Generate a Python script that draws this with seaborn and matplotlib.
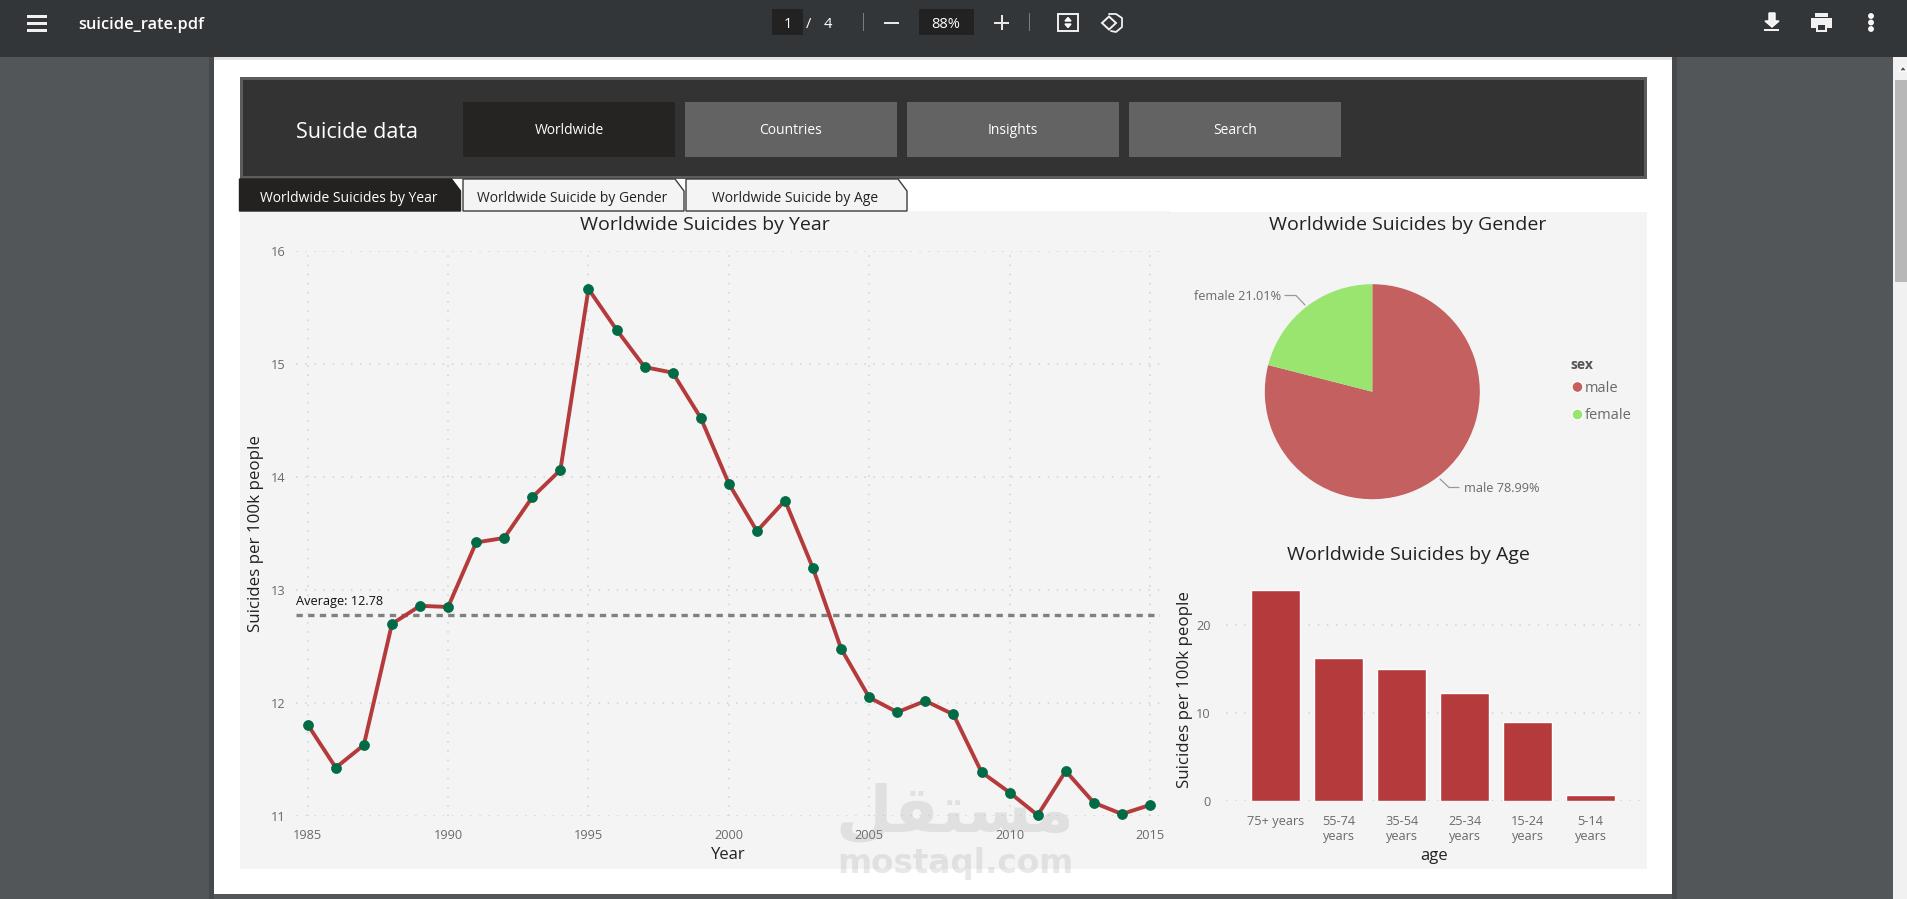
import matplotlib
matplotlib.use("Agg")
import matplotlib.pyplot as plt
from matplotlib.patches import Rectangle, Polygon, Circle
import pandas as pd
import seaborn as sns

# Worldwide suicide rate per 100k people
years = list(range(1985, 2016))
rates = [11.81, 11.43, 11.63, 12.70, 12.86, 12.85, 13.42, 13.46, 13.82, 14.06,
         15.66, 15.30, 14.97, 14.92, 14.52, 13.94, 13.52, 13.79, 13.19, 12.48,
         12.05, 11.92, 12.02, 11.90, 11.39, 11.21, 11.01, 11.40, 11.12, 11.02, 11.10]
average_rate = 12.78

sexes = ["male", "female"]
sex_shares = [78.99, 21.01]

age_groups = ["75+ years", "55-74\nyears", "35-54\nyears", "25-34\nyears", "15-24\nyears", "5-14\nyears"]
age_rates = [23.98, 16.24, 14.99, 12.26, 8.96, 0.65]

nav_labels = ["Worldwide", "Countries", "Insights", "Search"]
tab_labels = ["Worldwide Suicides by Year", "Worldwide Suicide by Gender", "Worldwide Suicide by Age"]
year_ticks = [1985, 1990, 1995, 2000, 2005, 2010, 2015]
rate_ticks = [11, 12, 13, 14, 15, 16]
age_ticks = [0, 10, 20]

W, H = 1907, 899
FONT = "Open Sans"
RED = "#B53A3B"
GREEN = "#006B45"
PIE_COLORS = ["#C46060", "#9AE570"]
PANEL = "#F4F4F4"
TICK = "#6A6A6A"
INK = "#222222"

sns.set_theme(style="white")
plt.rcParams["font.family"] = [FONT, "DejaVu Sans"]
plt.rcParams["axes.unicode_minus"] = False

fig = plt.figure(figsize=(W / 100, H / 100), dpi=100, facecolor="#525659")


def pixel_axes(x0, y0, x1, y1, **kw):
    """Axes placed by its pixel box, with y counted from the top of the figure."""
    return fig.add_axes([x0 / W, 1 - y1 / H, (x1 - x0) / W, (y1 - y0) / H], **kw)


# Viewer chrome and dashboard frame share one backdrop in pixel coordinates
bg = pixel_axes(0, 0, W, H)
bg.set_xlim(0, W)
bg.set_ylim(H, 0)
bg.axis("off")


def box(x0, y0, x1, y1, color, **kw):
    bg.add_patch(Rectangle((x0, y0), x1 - x0, y1 - y0, facecolor=color, edgecolor=kw.pop("edgecolor", "none"), **kw))


def label(x, y, s, size, color="white", ha="center", **kw):
    bg.text(x, y, s, fontsize=size, color=color, ha=ha, va="center", **kw)


# Page, shadow and scrollbar
box(0, 0, W, H, "#525659")
box(1672, 57, 1677, 899, "#45494C")
box(209, 57, 214, 899, "#45494C")
box(214, 57, 1672, 894, "white")
box(214, 57, 1672, 60, "#E4E4E4")
box(1893, 57, 1907, 899, "#F1F1F1")
box(1895, 80, 1907, 282, "#B7B7B7")
bg.add_patch(Polygon([(1899, 71), (1907, 71), (1903, 66)], facecolor="#505050"))

# Toolbar
box(0, 0, W, 57, "#323639")
for y in (15, 22, 29):
    box(27, y, 47, y + 2.6, "#F1F1F1")
label(78.5, 25, "suicide_rate.pdf", 11.8, ha="left", fontweight="semibold")
box(772, 9, 803, 35, "#222222")
label(788, 24, "1", 10.5)
label(809, 25, "/", 10.5)
label(828, 24, "4", 10.5)
box(862.5, 13, 863.5, 31, "#7A7D80")
box(884, 21.5, 899, 23.5, "#E8E8E8")
box(919, 9, 974, 35, "#222222")
label(946, 24, "88%", 10.5)
box(994, 21.5, 1009, 23.5, "#E8E8E8")
box(1000.5, 15, 1002.5, 30, "#E8E8E8")
box(1029, 13, 1030, 31, "#7A7D80")
box(1057.5, 14, 1078, 31, "none", edgecolor="#F1F1F1", linewidth=1.4)
bg.add_patch(Polygon([(1065, 21), (1071, 21), (1068, 17.5)], facecolor="#F1F1F1"))
bg.add_patch(Polygon([(1065, 24), (1071, 24), (1068, 27.5)], facecolor="#F1F1F1"))
bg.add_patch(Polygon([(1102, 23), (1109, 16.5), (1116, 23), (1109, 29.5)], facecolor="none", edgecolor="#F1F1F1", linewidth=1.4))
bg.plot([1109, 1116, 1122, 1122, 1116, 1111], [14, 14, 18, 27, 32, 31], color="#F1F1F1", lw=1.3)
bg.add_patch(Polygon([(1765, 21), (1769, 21), (1769, 13), (1775, 13), (1775, 21), (1779, 21), (1772, 27)], facecolor="#F1F1F1"))
box(1764, 29, 1779, 30.5, "#F1F1F1")
box(1815, 13, 1828, 17, "#F1F1F1")
box(1811, 18, 1832, 28, "#F1F1F1")
box(1816, 24, 1827, 32, "#F1F1F1")
box(1818, 25, 1825, 30, "#323639")
for y in (16, 22.5, 29):
    bg.add_patch(Circle((1871, y), 2.2, facecolor="#F1F1F1"))

# Dashboard header
box(239.5, 77, 1647, 179, "#5C5C5A")
box(242.5, 80, 1643.5, 175.5, "#333333")
label(357.5, 132, "Suicide data", 15.5)
nav_boxes = [(463, 675), (685, 897), (907, 1119), (1129, 1341)]
for (x0, x1), name, fill in zip(nav_boxes, nav_labels, ["#252422", "#636363", "#636363", "#636363"]):
    box(x0, 102, x1, 157, fill)
    label((x0 + x1) / 2, 131, name, 10)

# Tabs and chart panel
box(239.5, 211, 1647, 869, PANEL)
box(1170, 211, 1647, 212, "white")
tab_boxes = [(239.5, 460.5), (463, 684), (686, 907)]
for i, ((x0, x1), name) in enumerate(zip(tab_boxes, tab_labels)):
    pts = [(x0, 211), (x0, 179), (x1 - 9, 179), (x1, 191), (x1, 211)]
    first = i == 0
    bg.add_patch(Polygon(pts, facecolor="#232220" if first else PANEL,
                         edgecolor="#232220" if first else "#3C3C3C", linewidth=1))
    label((x0 + x1) / 2 - 1.5, 199, name, 10, color="white" if first else INK)


def style_axes(ax):
    ax.set_facecolor("none")
    sns.despine(ax=ax, left=True, bottom=True)
    ax.tick_params(length=0, labelsize=9.2, labelcolor=TICK, pad=0)
    ax.grid(True, color="#D2D2D2", linestyle=(0, (1, 5)), linewidth=1.1)
    ax.set_axisbelow(True)


# Yearly trend
ax_year = pixel_axes(296, 250.5, 1160, 816.3)
year_df = pd.DataFrame({"Year": years, "rate": rates})
style_axes(ax_year)
ax_year.axhline(average_rate, color="#808080", lw=2.4, linestyle=(0, (1.9, 1.6)), zorder=2)
sns.lineplot(data=year_df, x="Year", y="rate", ax=ax_year, color=RED, lw=2.8, marker="o", markersize=7.2,
             markerfacecolor=GREEN, markeredgecolor=GREEN, markeredgewidth=0.5, clip_on=False, zorder=3)
ax_year.set_xlim(1985 - 11.7 / 28.08, 2015 + 10 / 28.08)
ax_year.set_ylim(11, 16)
ax_year.set_xticks(year_ticks)
ax_year.set_yticks(rate_ticks)
ax_year.tick_params(axis="x", pad=9)
ax_year.tick_params(axis="y", pad=7.5)
ax_year.set_xlabel("Year", fontsize=12, color=INK, labelpad=4)
ax_year.set_ylabel("Suicides per 100k people", fontsize=12.2, color=INK)
ax_year.yaxis.set_label_coords(-32 / 864, 0.5)
ax_year.annotate(f"Average: {average_rate}", xy=(0, average_rate), xycoords=("axes fraction", "data"),
                 xytext=(0, 5), textcoords="offset points", fontsize=9.2, color="#111111", ha="left", va="bottom")
label(704.5, 225, "Worldwide Suicides by Year", 14, color=INK)

# Gender split
ax_pie = pixel_axes(1372.3 - 107.5, 391.7 - 107.5, 1372.3 + 107.5, 391.7 + 107.5)
ax_pie.pie(sex_shares, colors=PIE_COLORS, startangle=90, counterclock=False, radius=1,
           wedgeprops={"linewidth": 0})
ax_pie.set_xlim(-1, 1)
ax_pie.set_ylim(-1, 1)
label(1408, 225.5, "Worldwide Suicides by Gender", 14, color=INK)
bg.plot([1285, 1296, 1305], [295.5, 295.5, 305], color="#999999", lw=0.9)
label(1281, 296.5, f"{sexes[1]} {sex_shares[1]}%", 9.2, color=TICK, ha="right")
bg.plot([1440, 1449, 1459], [479, 487.5, 487.5], color="#999999", lw=0.9)
label(1464, 488.5, f"{sexes[0]} {sex_shares[0]}%", 9.2, color=TICK, ha="left")
label(1570, 365, "sex", 10, color="#555555", ha="left", fontweight="bold")
for y, name, color in zip((387, 414.5), sexes, PIE_COLORS):
    bg.add_patch(Circle((1577.5, y), 5.5, facecolor=color))
    label(1585, y + 1, name, 10.5, color=TICK, ha="left")

# Age groups
ax_age = pixel_axes(1226, 582, 1643, 800.7)
age_df = pd.DataFrame({"age": age_groups, "rate": age_rates})
style_axes(ax_age)
ax_age.grid(False, axis="x")
sns.barplot(data=age_df, x="age", y="rate", ax=ax_age, color=RED, saturation=1, width=0.778, zorder=3)
ax_age.set_xlim(-0.786, 5.83)
ax_age.set_ylim(0, 218.7 / 8.78)
ax_age.set_yticks(age_ticks)
ax_age.tick_params(axis="x", pad=10)
ax_age.tick_params(axis="y", pad=11)
ax_age.set_xlabel("age", fontsize=12, color=INK, labelpad=4)
ax_age.set_ylabel("Suicides per 100k people", fontsize=12.2, color=INK)
ax_age.yaxis.set_label_coords(-33 / 417, 0.509)
label(1408, 555, "Worldwide Suicides by Age", 14, color=INK)

# Site stamp over the lower part of the page
stamp = pixel_axes(0, 0, W, H)
stamp.set_xlim(0, W)
stamp.set_ylim(H, 0)
stamp.axis("off")
stamp.set_zorder(10)
stamp.text(955, 864, "mostaql.com", fontsize=23.5, fontweight="bold", color="#9A9A9A", alpha=0.22,
           ha="center", va="center", family="DejaVu Sans")
stamp.text(955, 813, "\uFEDE\uFED8\uFE98\uFEB4\uFEE3", fontsize=47, fontweight="bold", color="#9A9A9A", alpha=0.22,
           ha="center", va="center", family="DejaVu Sans")

fig.savefig("out.png", dpi=100, facecolor=fig.get_facecolor())
